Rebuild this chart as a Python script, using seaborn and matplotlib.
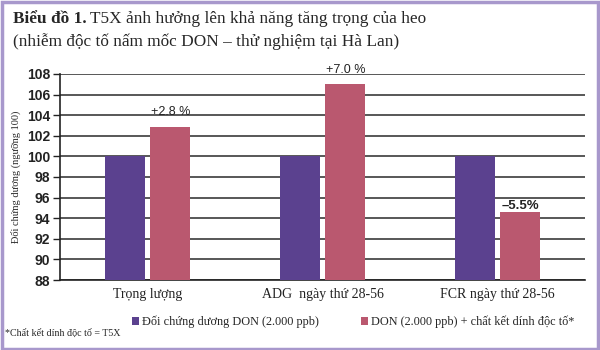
import matplotlib
matplotlib.use("Agg")
import matplotlib.pyplot as plt
import seaborn as sns
import pandas as pd
from matplotlib.patches import Rectangle, Patch

categories = ["Trọng lượng", "ADG  ngày thứ 28-56", "FCR ngày thứ 28-56"]
series_names = ["Đối chứng dương DON (2.000 ppb)", "DON (2.000 ppb) + chất kết dính độc tố*"]
control_values = [100, 100, 100]
treated_values = [102.9, 107.0, 94.6]
labels = ["+2.8 %", "+7.0 %", "–5.5%"]
yticks = [88, 90, 92, 94, 96, 98, 100, 102, 104, 106, 108]

colors = ["#5B418F", "#BA586F"]

sns.set_theme(style="white")
serif = ["Liberation Serif", "DejaVu Serif"]
sans = ["Liberation Sans", "DejaVu Sans"]

df = pd.DataFrame({
    "cat": categories * 2,
    "series": [series_names[0]] * 3 + [series_names[1]] * 3,
    "value": control_values + treated_values,
})

fig = plt.figure(figsize=(6, 3.5), dpi=100)
ax = fig.add_axes([0.1, 0.2, 0.875, 0.5886])
sns.barplot(data=df, x="cat", y="value", hue="series", palette=colors,
            width=0.52, gap=0.13, ax=ax, legend=False, saturation=1,
            edgecolor="none", zorder=3)
ax.set_ylim(88, 108)
ax.set_yticks(yticks)
ax.set_yticklabels([str(t) for t in yticks], fontfamily=sans, fontsize=10, fontweight="bold", color="#222222")
ax.set_xticks(range(3))
ax.set_xticklabels(categories, fontfamily=serif, fontsize=10, color="#222222")
ax.set_xlabel("")
ax.set_ylabel("Đối chứng dương (ngưỡng 100)", fontfamily=serif, fontsize=7.5, labelpad=4)
ax.grid(axis="y", color="#4a4a4a", linewidth=1.3, zorder=0)
ax.set_axisbelow(True)
for s in ["top", "right"]:
    ax.spines[s].set_visible(False)
ax.spines["left"].set_color("#222222")
ax.spines["bottom"].set_color("#222222")
ax.spines["left"].set_linewidth(1.2)
ax.spines["bottom"].set_linewidth(1.2)
ax.tick_params(axis="y", which="both", left=True, length=5, width=1, color="#222222", pad=2)
ax.tick_params(axis="x", length=0, pad=6)

# annotations above treated bars
treated_bars = ax.containers[1]
offsets = [0.8, 0.8, 0.05]
for bar, lab, off in zip(treated_bars, labels, offsets):
    neg = lab.startswith("–")
    ax.text(bar.get_x() + bar.get_width() / 2, bar.get_height() + off, lab,
            ha="center", va="bottom", fontfamily=sans, fontsize=9.5 if neg else 9,
            color="#222222", fontweight="bold" if neg else "normal")

# legend entries
handles = [Patch(facecolor=c, edgecolor="none") for c in colors]
for h, name, xpos in zip(handles, series_names, [132 / 600, 361 / 600]):
    fig.legend([h], [name], loc="center left", bbox_to_anchor=(xpos, 0.08),
               frameon=False, prop={"family": serif, "size": 8.8}, handlelength=0.6,
               handleheight=0.6, handletextpad=0.25, borderpad=0, borderaxespad=0)

fig.text(5 / 600, 0.049, "*Chất kết dính độc tố = T5X", fontfamily=serif, fontsize=7.2, va="center")

# title
t1 = fig.text(13 / 600, 0.946, "Biểu đồ 1.", fontfamily=serif, fontsize=12.4, fontweight="bold", va="center")
fig.canvas.draw()
bb = t1.get_window_extent()
x1 = bb.x1 / fig.bbox.width
fig.text(x1 + 0.006, 0.946, "T5X ảnh hưởng lên khả năng tăng trọng của heo", fontfamily=serif, fontsize=12.4, va="center")
fig.text(13 / 600, 0.88, "(nhiễm độc tố nấm mốc DON – thử nghiệm tại Hà Lan)", fontfamily=serif, fontsize=12.4, va="center")

fig.patches.append(Rectangle((0.003, 0.004), 0.994, 0.99, transform=fig.transFigure,
                             fill=False, edgecolor="#A898CC", linewidth=2.5))

fig.savefig("out.png", dpi=100)
